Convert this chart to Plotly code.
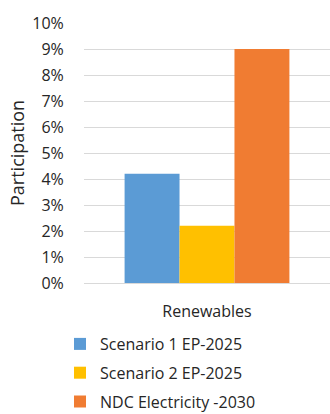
import plotly.graph_objects as go

category = ["Renewables"]
series_names = ["Scenario 1 EP-2025", "Scenario 2 EP-2025", "NDC Electricity -2030"]
series_values = [[0.042], [0.022], [0.090]]
series_colors = ["#5B9BD5", "#FFC000", "#F07C32"]
y_ticks = [0, 0.01, 0.02, 0.03, 0.04, 0.05, 0.06, 0.07, 0.08, 0.09, 0.10]
y_title = "Participation"

font_family = "Open Sans, Liberation Sans, sans-serif"

fig = go.Figure()
for name, vals, color in zip(series_names, series_values, series_colors):
    fig.add_trace(go.Bar(
        x=category, y=vals, name=name, legendgroup=name,
        marker=dict(color=color, line=dict(width=0)),
    ))

fig.update_layout(
    width=330, height=414,
    margin=dict(l=84, r=0, t=23, b=131, autoexpand=False),
    paper_bgcolor="white", plot_bgcolor="white",
    barmode="group", bargap=0.33, bargroupgap=0,
    font=dict(family=font_family, color="#262626", size=15),
    showlegend=True,
    legend=dict(
        orientation="v",
        xref="container", x=60 / 330, xanchor="left",
        yref="container", y=1 - 327 / 414, yanchor="top",
        font=dict(size=16, color="#262626"), tracegroupgap=5,
        itemwidth=30, bgcolor="rgba(0,0,0,0)",
    ),
    xaxis=dict(
        showgrid=False, showline=False,
        ticks="outside", ticklen=14, tickcolor="rgba(0,0,0,0)",
        tickfont=dict(size=16), range=[-0.5, 0.5],
    ),
    yaxis=dict(
        range=[0, 0.1], tickvals=y_ticks, tickformat=".0%",
        showgrid=True, gridcolor="#D9D9D9", gridwidth=1,
        zeroline=True, zerolinecolor="#D9D9D9", zerolinewidth=1,
        tickfont=dict(size=16),
        ticks="outside", ticklen=16, tickcolor="rgba(0,0,0,0)",
    ),
    annotations=[dict(
        text=y_title, textangle=-90, showarrow=False,
        xref="paper", yref="paper", x=0, y=0.5,
        xanchor="center", yanchor="middle", xshift=-67,
        font=dict(size=18, color="#262626"),
    )],
)

fig.write_html("out.html")
